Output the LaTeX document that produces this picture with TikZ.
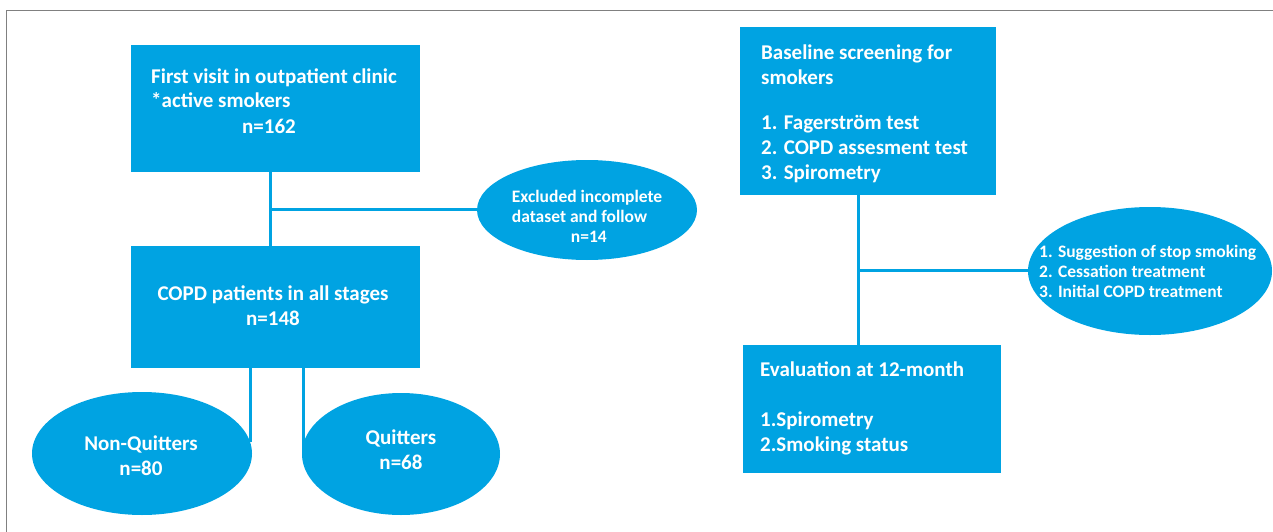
\documentclass[tikz,border=0pt]{standalone}
\usepackage{fontspec}
\setmainfont{Carlito}
\usetikzlibrary{shapes.geometric}
\definecolor{boxblue}{RGB}{0,163,226}
\definecolor{framegray}{RGB}{128,128,128}
\begin{document}
\begin{tikzpicture}[x=1pt,y=-1pt,
  boxnode/.style={rectangle,fill=boxblue,inner sep=0pt},
  ellnode/.style={ellipse,fill=boxblue,inner sep=0pt},
  bigtext/.style={text=white,font=\fontsize{21}{25}\selectfont\bfseries,inner sep=0pt},
  smalltext/.style={text=white,font=\fontsize{17.5}{20}\selectfont\bfseries,inner sep=0pt,align=left},
  link/.style={draw=boxblue,line width=3pt}]
\useasboundingbox (0,0) rectangle (1273,532);
\draw[framegray,line width=1.5pt] (6.5,532) -- (6.5,10.5) -- (1273,10.5);

% shapes
\node[boxnode,minimum width=289pt,minimum height=127pt] (b1) at (275.5,108.5) {};
\node[boxnode,minimum width=289pt,minimum height=122pt] (b2) at (275.5,307) {};
\node[boxnode,minimum width=256pt,minimum height=168pt] (b3) at (868,111) {};
\node[boxnode,minimum width=258pt,minimum height=128pt] (b4) at (872,409) {};
\node[ellnode,minimum width=220pt,minimum height=100pt] (e1) at (587,210) {};
\node[ellnode,minimum width=244pt,minimum height=128pt] (e2) at (1150,271) {};
\node[ellnode,minimum width=220pt,minimum height=123pt] (e3) at (142,453.5) {};
\node[ellnode,minimum width=198pt,minimum height=122pt] (e4) at (401,454) {};

% connectors
\coordinate (j1) at (270,209);
\coordinate (j2) at (858,270);
\coordinate (k1) at (250.5,368);
\coordinate (k2) at (303.5,368);
\draw[link] (b1.south -| j1) -- (b2.north -| j1);
\draw[link] (j1) -- (j1 -| e1.west);
\draw[link] (b3.south -| j2) -- (b4.north -| j2);
\draw[link] (j2) -- (j2 -| e2.west);
\draw[link] (b2.south -| k1) -- ([yshift=12pt]k1 |- e3.east);
\draw[link] (b2.south -| k2) -- ([yshift=-4pt]k2 |- e4.west);

% texts (base anchor = baseline of the last line)
\node[bigtext,align=left,anchor=base west] (t1) at (151,133)
  {First visit in outpatient clinic\\\mbox{*active smokers}\\\hspace*{91pt}n=162};
\node[bigtext,align=center,anchor=base] (t2) at (273,325)
  {COPD patients in all stages\\n=148};
\node[bigtext,align=left,anchor=base west] (t3) at (761,179)
  {Baseline screening for\\smokers\\[19.5pt]1. Fagerström test\\2. COPD assesment test\\3. Spirometry};
\node[bigtext,align=left,anchor=base west] (t4) at (760,451)
  {Evaluation at 12-month\\[25pt]1.Spirometry\\2.Smoking status};
\node[smalltext,anchor=base west] (t5) at (511.7,242)
  {Excluded incomplete\\dataset and follow\\\hspace*{59pt}n=14};
\node[smalltext,anchor=base west] (t6) at (1039,297)
  {1. Suggestion of stop smoking\\2. Cessation treatment\\3. Initial COPD treatment};
\node[bigtext,align=center,anchor=base] (t7) at (141,475) {Non-Quitters\\n=80};
\node[bigtext,align=center,anchor=base] (t8) at (401,469.5) {Quitters\\n=68};
\end{tikzpicture}
\end{document}
